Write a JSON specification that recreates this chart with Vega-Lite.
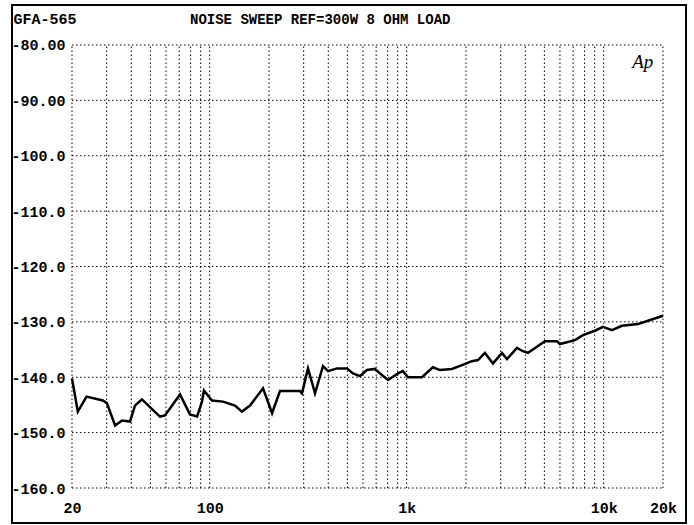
{
  "$schema": "https://vega.github.io/schema/vega-lite/v6.json",
  "width": 674,
  "height": 518,
  "autosize": "none",
  "padding": {"left": 12, "top": 5, "right": 8, "bottom": 2},
  "background": "white",
  "config": {
    "view": {"stroke": "black", "strokeWidth": 2},
    "font": "Liberation Mono"
  },
  "title": {
    "text": "NOISE SWEEP REF=300W 8 OHM LOAD",
    "anchor": "start",
    "frame": "group",
    "dx": 178,
    "offset": -22,
    "font": "Liberation Mono",
    "fontSize": 14,
    "fontWeight": "bold",
    "color": "black"
  },
  "datasets": {
    "curve": [
      {"freq": 20, "db": -140.2}, {"freq": 21.4, "db": -146.2}, {"freq": 23.7, "db": -143.5},
      {"freq": 28.7, "db": -144.2}, {"freq": 30.1, "db": -144.7}, {"freq": 33.1, "db": -148.7},
      {"freq": 35.9, "db": -147.8}, {"freq": 39.4, "db": -148.0}, {"freq": 41.8, "db": -145.1},
      {"freq": 45.3, "db": -144.0}, {"freq": 55.9, "db": -147.1}, {"freq": 59.3, "db": -146.9},
      {"freq": 70.7, "db": -143.1}, {"freq": 79.4, "db": -146.7}, {"freq": 86.3, "db": -147.1},
      {"freq": 91.4, "db": -144.4}, {"freq": 93.5, "db": -142.4}, {"freq": 102.7, "db": -144.2},
      {"freq": 116.8, "db": -144.4}, {"freq": 134.4, "db": -145.1}, {"freq": 145.8, "db": -146.2},
      {"freq": 160.2, "db": -145.1}, {"freq": 186.6, "db": -142.0}, {"freq": 207.3, "db": -146.5},
      {"freq": 227.4, "db": -142.5}, {"freq": 287.4, "db": -142.5}, {"freq": 294, "db": -142.9},
      {"freq": 315.6, "db": -138.4}, {"freq": 342.6, "db": -142.9}, {"freq": 376, "db": -138.0},
      {"freq": 398.5, "db": -138.9}, {"freq": 443, "db": -138.4}, {"freq": 497.8, "db": -138.4},
      {"freq": 534, "db": -139.3}, {"freq": 579, "db": -139.8}, {"freq": 628, "db": -138.7},
      {"freq": 690, "db": -138.5}, {"freq": 732, "db": -139.3}, {"freq": 804, "db": -140.5},
      {"freq": 904, "db": -139.3}, {"freq": 957, "db": -138.9}, {"freq": 1016, "db": -140.0},
      {"freq": 1196, "db": -140.0}, {"freq": 1359, "db": -138.2}, {"freq": 1476, "db": -138.7},
      {"freq": 1698, "db": -138.5}, {"freq": 1908, "db": -137.8}, {"freq": 2144, "db": -137.1},
      {"freq": 2302, "db": -136.9}, {"freq": 2497, "db": -135.6}, {"freq": 2742, "db": -137.5},
      {"freq": 3048, "db": -135.6}, {"freq": 3230, "db": -136.7}, {"freq": 3632, "db": -134.7},
      {"freq": 3892, "db": -135.3}, {"freq": 4129, "db": -135.6}, {"freq": 5036, "db": -133.5},
      {"freq": 5794, "db": -133.5}, {"freq": 6000, "db": -134.0}, {"freq": 7148, "db": -133.3},
      {"freq": 7854, "db": -132.4}, {"freq": 9030, "db": -131.6}, {"freq": 9914, "db": -130.9},
      {"freq": 11016, "db": -131.5}, {"freq": 12388, "db": -130.7}, {"freq": 14930, "db": -130.4},
      {"freq": 16790, "db": -129.8}, {"freq": 20000, "db": -128.9}
    ],
    "vgrid": [
      {"freq": 20}, {"freq": 30}, {"freq": 40}, {"freq": 50}, {"freq": 60}, {"freq": 70},
      {"freq": 80}, {"freq": 90}, {"freq": 100}, {"freq": 200}, {"freq": 300}, {"freq": 400},
      {"freq": 500}, {"freq": 600}, {"freq": 700}, {"freq": 800}, {"freq": 900}, {"freq": 1000},
      {"freq": 2000}, {"freq": 3000}, {"freq": 4000}, {"freq": 5000}, {"freq": 6000},
      {"freq": 7000}, {"freq": 8000}, {"freq": 9000}, {"freq": 10000}, {"freq": 20000}
    ],
    "hgrid": [
      {"db": -80}, {"db": -90}, {"db": -100}, {"db": -110}, {"db": -120},
      {"db": -130}, {"db": -140}, {"db": -150}, {"db": -160}
    ],
    "logo": [{"label": "Ap", "freq": 15800, "db": -83}]
  },
  "layer": [
    {
      "data": {"name": "vgrid"},
      "mark": {"type": "rule", "color": "black", "strokeWidth": 1, "strokeDash": [1.5, 2.5]},
      "encoding": {
        "x": {
          "field": "freq", "type": "quantitative",
          "scale": {"type": "log", "domain": [9.92, 26180], "nice": false, "zero": false},
          "axis": {
            "values": [20, 100, 1000, 10000, 20000],
            "labelExpr": "datum.value >= 1000 ? format(datum.value / 1000, 'd') + 'k' : format(datum.value, 'd')",
            "ticks": false, "domain": false, "grid": false,
            "labelPadding": -16, "labelBaseline": "middle", "labelAlign": "center",
            "labelFlush": false, "labelOverlap": false, "labelBound": false,
            "labelFont": "Liberation Mono", "labelFontSize": 15, "labelFontWeight": "bold", "labelColor": "black",
            "title": null
          }
        },
        "y": {
          "datum": -160, "type": "quantitative",
          "scale": {"domain": [-166.32, -72.78], "nice": false, "zero": false},
          "axis": {
            "values": [-80, -90, -100, -110, -120, -130, -140, -150, -160],
            "labelExpr": "'-' + (datum.value > -100 ? format(abs(datum.value), '.2f') : format(abs(datum.value), '.1f'))",
            "ticks": false, "domain": false, "grid": false,
            "labelPadding": -53, "labelAlign": "right", "labelBaseline": "middle",
            "labelFlush": false, "labelOverlap": false, "labelBound": false,
            "labelFont": "Liberation Mono", "labelFontSize": 15, "labelFontWeight": "bold", "labelColor": "black",
            "title": "GFA-565", "titleAngle": 0, "titleAlign": "left", "titleBaseline": "middle",
            "titleX": 1, "titleY": 13,
            "titleFont": "Liberation Mono", "titleFontSize": 15, "titleFontWeight": "bold", "titleColor": "black"
          }
        },
        "y2": {"datum": -80}
      }
    },
    {
      "data": {"name": "hgrid"},
      "mark": {"type": "rule", "color": "black", "strokeWidth": 1, "strokeDash": [1.5, 2.5]},
      "encoding": {
        "y": {"field": "db", "type": "quantitative"},
        "x": {"datum": 20, "type": "quantitative"},
        "x2": {"datum": 20000}
      }
    },
    {
      "data": {"name": "curve"},
      "mark": {"type": "line", "color": "black", "strokeWidth": 2.5, "interpolate": "linear"},
      "encoding": {
        "x": {"field": "freq", "type": "quantitative"},
        "y": {"field": "db", "type": "quantitative"}
      }
    },
    {
      "data": {"name": "logo"},
      "mark": {"type": "text", "font": "Liberation Serif", "fontStyle": "italic", "fontSize": 19, "color": "black", "align": "center", "baseline": "middle"},
      "encoding": {
        "x": {"field": "freq", "type": "quantitative"},
        "y": {"field": "db", "type": "quantitative"},
        "text": {"field": "label"}
      }
    }
  ]
}
